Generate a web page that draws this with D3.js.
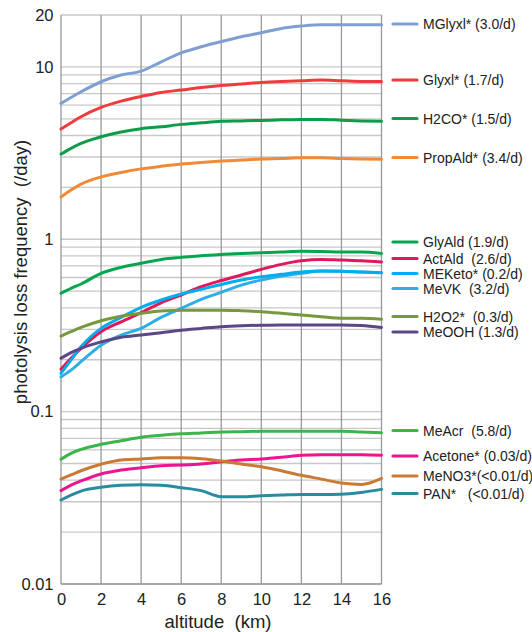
<!DOCTYPE html>
<html>
<head>
<meta charset="utf-8">
<script src="https://cdn.jsdelivr.net/npm/d3@7"></script>
<style>
  html, body { margin: 0; padding: 0; background: #fff; }
  svg { display: block; font-family: "Liberation Sans", Arial, sans-serif; }
  text { white-space: pre; }
</style>
</head>
<body>
<svg id="chart" width="532" height="632"></svg>
<script>
// ---------------- data ----------------
const altitude = [0, 0.5, 1, 2, 3, 4, 5, 6, 7, 8, 9, 10, 11, 12, 13, 14, 15, 16];

const MGlyxl  = [6.14, 6.65, 7.17, 8.2, 8.97, 9.45, 10.7, 12.07, 13.08, 14.02, 14.95, 15.77, 16.72, 17.25, 17.55, 17.55, 17.55, 17.55];
const Glyxl   = [4.36, 4.74, 5.14, 5.82, 6.33, 6.74, 7.11, 7.34, 7.60, 7.81, 7.95, 8.13, 8.24, 8.31, 8.38, 8.31, 8.24, 8.24];
const H2CO    = [3.12, 3.37, 3.60, 3.93, 4.19, 4.38, 4.49, 4.64, 4.74, 4.83, 4.86, 4.89, 4.93, 4.96, 4.96, 4.91, 4.86, 4.83];
const PropAld = [1.76, 1.93, 2.09, 2.30, 2.44, 2.56, 2.65, 2.73, 2.79, 2.84, 2.88, 2.92, 2.94, 2.97, 2.97, 2.94, 2.92, 2.91];
const GlyAld  = [0.486, 0.519, 0.550, 0.634, 0.687, 0.725, 0.764, 0.785, 0.802, 0.817, 0.826, 0.835, 0.843, 0.851, 0.848, 0.843, 0.843, 0.828];
const ActAld  = [0.176, 0.204, 0.233, 0.291, 0.332, 0.375, 0.428, 0.475, 0.530, 0.576, 0.620, 0.669, 0.715, 0.750, 0.764, 0.757, 0.750, 0.738];
const MEKeto  = [0.167, 0.199, 0.238, 0.304, 0.352, 0.403, 0.444, 0.481, 0.512, 0.547, 0.580, 0.606, 0.626, 0.645, 0.654, 0.652, 0.645, 0.639];
const MeVK    = [0.159, 0.174, 0.195, 0.243, 0.278, 0.304, 0.352, 0.397, 0.448, 0.492, 0.542, 0.580, 0.612, 0.634, 0.654, 0.652, 0.645, 0.639];
const H2O2    = [0.274, 0.291, 0.308, 0.337, 0.358, 0.372, 0.383, 0.387, 0.388, 0.388, 0.385, 0.380, 0.372, 0.363, 0.355, 0.348, 0.348, 0.343];
const MeOOH   = [0.204, 0.220, 0.233, 0.254, 0.270, 0.278, 0.287, 0.297, 0.304, 0.311, 0.315, 0.317, 0.318, 0.318, 0.318, 0.318, 0.316, 0.308];
const MeAcr   = [0.0529, 0.0573, 0.0604, 0.0646, 0.0678, 0.0710, 0.0729, 0.0744, 0.0752, 0.0762, 0.0765, 0.0769, 0.0769, 0.0769, 0.0769, 0.0769, 0.0762, 0.0754];
const Acetone = [0.0348, 0.0375, 0.0396, 0.0435, 0.0458, 0.0473, 0.0486, 0.0490, 0.0497, 0.0512, 0.0524, 0.0531, 0.0543, 0.0558, 0.0562, 0.0562, 0.0562, 0.0558];
const MeNO3   = [0.0406, 0.0429, 0.0454, 0.0495, 0.0524, 0.0531, 0.0540, 0.0540, 0.0533, 0.0517, 0.0497, 0.0479, 0.0454, 0.0427, 0.0406, 0.0385, 0.0378, 0.0410];
const PAN     = [0.0307, 0.0328, 0.0346, 0.0364, 0.0374, 0.0377, 0.0374, 0.0362, 0.0348, 0.0321, 0.0321, 0.0325, 0.0328, 0.0331, 0.0331, 0.0332, 0.0340, 0.0354];

const seriesNames  = ["MGlyxl", "Glyxl", "H2CO", "PropAld", "GlyAld", "ActAld", "MEKeto", "MeVK", "H2O2", "MeOOH", "MeAcr", "Acetone", "MeNO3", "PAN"];
const seriesValues = [MGlyxl, Glyxl, H2CO, PropAld, GlyAld, ActAld, MEKeto, MeVK, H2O2, MeOOH, MeAcr, Acetone, MeNO3, PAN];
const legendLabels = ["MGlyxl* (3.0/d)", "Glyxl* (1.7/d)", "H2CO* (1.5/d)", "PropAld* (3.4/d)",
                      "GlyAld (1.9/d)", "ActAld  (2.6/d)", "MEKeto* (0.2/d)", "MeVK  (3.2/d)",
                      "H2O2*  (0.3/d)", "MeOOH (1.3/d)", "MeAcr  (5.8/d)", "Acetone* (0.03/d)",
                      "MeNO3*(<0.01/d)", "PAN*   (<0.01/d)"];

const xTicks = [0, 2, 4, 6, 8, 10, 12, 14, 16];
const yTicks = [0.01, 0.1, 1, 10, 20];
const yTickLabels = ["0.01", "0.1", "1", "10", "20"];

// ---------------- styles / layout ----------------
const colors = ["#7f9fd3", "#ee3b3b", "#0d9c48", "#f08a36", "#07a550", "#e0195b", "#00adef",
                "#2eaee3", "#77983c", "#5b4687", "#3cb54a", "#ec1490", "#c97a34", "#2a8aa0"];
const legendY = [24, 80, 118.5, 157.5, 242, 258.5, 273.5, 288.5, 316.5, 332, 430.5, 456, 476, 493.5];

const svg = d3.select("#chart");
const x = d3.scaleLinear().domain([0, 16]).range([61, 381.5]);
const y = d3.scaleLog().domain([0.01, 20]).range([584, 15]);

// horizontal minor gridlines
const hGrid = [];
[0.01, 0.1, 1].forEach(d => { for (let m = 1; m <= 9; m++) hGrid.push(d * m); });
hGrid.push(10, 20);
svg.append("g").selectAll("line").data(hGrid).join("line")
  .attr("x1", x(0)).attr("x2", x(16))
  .attr("y1", d => y(d)).attr("y2", d => y(d))
  .attr("stroke", "#c8c8c8").attr("stroke-width", 1.3);

// vertical gridlines
svg.append("g").selectAll("line").data(xTicks).join("line")
  .attr("x1", d => x(d)).attr("x2", d => x(d))
  .attr("y1", y(20)).attr("y2", y(0.01))
  .attr("stroke", "#999").attr("stroke-width", 1.3);

// bottom axis line
svg.append("line").attr("x1", x(0)).attr("x2", x(16)).attr("y1", y(0.01)).attr("y2", y(0.01))
  .attr("stroke", "#999").attr("stroke-width", 1.3);

// axes (labels only)
const xAxis = svg.append("g").attr("transform", `translate(0,${y(0.01)})`)
  .call(d3.axisBottom(x).tickValues(xTicks).tickSize(0).tickPadding(9).tickFormat(d3.format("d")));
xAxis.select(".domain").remove();
xAxis.selectAll("text").attr("font-size", 16.5).attr("fill", "#222")
  .attr("font-family", "Liberation Sans, Arial, sans-serif");

const yAxis = svg.append("g").attr("transform", `translate(${x(0)},0)`)
  .call(d3.axisLeft(y).tickValues(yTicks).tickSize(0).tickPadding(7.5)
    .tickFormat((d, i) => yTickLabels[i]));
yAxis.select(".domain").remove();
yAxis.selectAll("text").attr("font-size", 16.5).attr("fill", "#222")
  .attr("font-family", "Liberation Sans, Arial, sans-serif");

// axis titles
svg.append("text").attr("x", 218).attr("y", 628).attr("text-anchor", "middle")
  .attr("font-size", 18.5).attr("fill", "#222").text("altitude  (km)");
svg.append("text").attr("transform", "translate(27,272) rotate(-90)").attr("text-anchor", "middle")
  .attr("font-size", 18.5).attr("fill", "#222").text("photolysis loss frequency  (/day)");

// lines
const line = d3.line().x((d, i) => x(altitude[i])).y(d => y(d)).curve(d3.curveMonotoneX);
const order = [0, 1, 2, 3, 4, 5, 7, 6, 8, 9, 10, 11, 12, 13];
svg.append("g").selectAll("path").data(order).join("path")
  .attr("d", i => line(seriesValues[i]))
  .attr("fill", "none").attr("stroke", i => colors[i]).attr("stroke-width", 3)
  .attr("stroke-linejoin", "round").attr("stroke-linecap", "round");

// legend
const lg = svg.append("g").selectAll("g").data(seriesNames).join("g")
  .attr("transform", (d, i) => `translate(0,${legendY[i]})`);
lg.append("line").attr("x1", 393).attr("x2", 417).attr("y1", 0).attr("y2", 0)
  .attr("stroke", (d, i) => colors[i]).attr("stroke-width", 3.2).attr("stroke-linecap", "round");
lg.append("text").attr("x", 423).attr("y", 0).attr("dy", "0.36em")
  .attr("font-size", 14).attr("fill", "#222").text((d, i) => legendLabels[i]);
</script>
</body>
</html>
